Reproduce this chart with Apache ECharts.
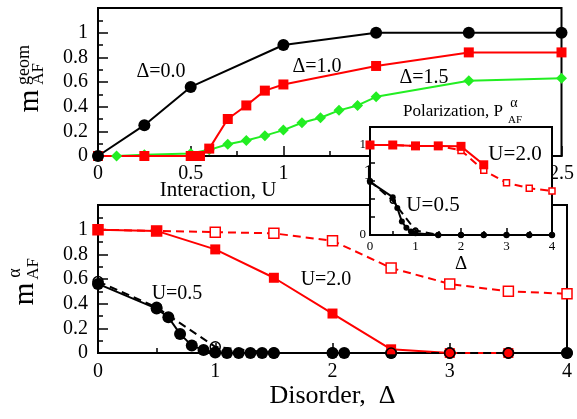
<!DOCTYPE html>
<html>
<head>
<meta charset="utf-8">
<script src="https://cdn.jsdelivr.net/npm/echarts@6/dist/echarts.min.js"></script>
<style>
html,body{margin:0;padding:0;background:#fff;}
#c{width:577px;height:419px;}
</style>
</head>
<body>
<div id="c"></div>
<script>
// ---- Top panel: m_AF^geom vs interaction U ----
const topU00 = [0, 0.25, 0.5, 1.0, 1.5, 2.0, 2.5];
const topD00 = [0, 0.25, 0.56, 0.90, 1.0, 1.0, 1.0];
const topU10 = [0, 0.25, 0.5, 0.55, 0.6, 0.7, 0.8, 0.9, 1.0, 1.5, 2.0, 2.5];
const topD10 = [0, 0, 0, 0, 0.06, 0.30, 0.41, 0.53, 0.58, 0.73, 0.84, 0.84];
const topU15 = [0, 0.1, 0.25, 0.5, 0.6, 0.7, 0.8, 0.9, 1.0, 1.1, 1.2, 1.3, 1.4, 1.5, 2.0, 2.5];
const topD15 = [0, 0, 0.01, 0.02, 0.05, 0.095, 0.125, 0.165, 0.21, 0.27, 0.31, 0.37, 0.41, 0.48, 0.61, 0.63];

// ---- Bottom panel: m_AF^alpha vs disorder Delta ----
const botX05 = [0, 0.5, 0.6, 0.7, 0.8, 0.9, 1.0, 1.1, 1.2, 1.3, 1.4, 1.5, 2.0, 2.1, 2.5, 3.0, 3.5, 4.0];
const botY05 = [0.56, 0.36, 0.29, 0.155, 0.06, 0.025, 0.005, 0, 0, 0, 0, 0, 0, 0, 0, 0, 0, 0];
const botX05o = [0, 0.5, 1.0, 1.5, 2.0, 2.5, 3.0, 3.5, 4.0];
const botY05o = [0.58, 0.37, 0.05, 0, 0, 0, 0, 0, 0];
const botX2 = [0, 0.5, 1.0, 1.5, 2.0, 2.5, 3.0, 3.5];
const botY2 = [1.0, 0.99, 0.84, 0.61, 0.32, 0.03, 0, 0];
const botX2o = [0, 0.5, 1.0, 1.5, 2.0, 2.5, 3.0, 3.5, 4.0];
const botY2o = [1.0, 0.99, 0.98, 0.97, 0.91, 0.69, 0.56, 0.50, 0.48];

// ---- Inset: polarization P_AF^alpha vs Delta ----
const insX2 = [0, 0.5, 1.0, 1.5, 2.0, 2.5];
const insY2 = [1.0, 1.0, 0.99, 0.99, 0.985, 0.78];
const insX2o = [0, 0.5, 1.0, 1.5, 2.0, 2.5, 3.0, 3.5, 4.0];
const insY2o = [1.0, 1.0, 0.99, 0.99, 0.94, 0.72, 0.58, 0.52, 0.49];
const insX05 = [0, 0.5, 0.6, 0.7, 0.8, 0.9, 1.0, 1.5, 2.0, 2.5, 3.0, 3.5, 4.0];
const insY05 = [0.59, 0.42, 0.30, 0.15, 0.08, 0.04, 0.02, 0, 0, 0, 0, 0, 0];
const insX05o = [0, 0.5, 1.0, 1.5, 2.0, 2.5, 3.0, 3.5, 4.0];
const insY05o = [0.6, 0.38, 0.05, 0, 0, 0, 0, 0, 0];

const zip = (xs, ys) => xs.map((x, i) => [x, ys[i]]);
const SERIF = '"Liberation Serif", "DejaVu Serif", serif';
const RED = '#ff0000', GREEN = '#22ee22', BLACK = '#000000';

function valAxis(gi, min, max, interval, opts) {
  opts = opts || {};
  return Object.assign({
    type: 'value', gridIndex: gi, min: min, max: max, interval: interval,
    axisLine: { show: true, onZero: false, lineStyle: { color: BLACK, width: 2 } },
    axisTick: { show: true, inside: true, length: opts.tickLen || 10, lineStyle: { color: BLACK, width: 1.5 } },
    minorTick: { show: true, splitNumber: opts.minorSplit || 2, length: opts.minorLen || 5, lineStyle: { color: BLACK, width: 1.5 } },
    splitLine: { show: false },
    axisLabel: {
      color: BLACK, fontFamily: SERIF, fontSize: opts.fontSize || 20, margin: opts.margin || 8,
      formatter: opts.formatter || (v => String(+v.toFixed(2)))
    }
  }, opts.extra || {});
}

// fill: null -> filled with colour; otherwise the inner fill of an open marker
function line(xi, yi, data, color, symbol, size, dashed, fill, z) {
  const open = fill != null;
  return {
    type: 'line', xAxisIndex: xi, yAxisIndex: yi, data: data,
    symbol: symbol, symbolSize: size, showSymbol: true, animation: false,
    z: z || 2,
    lineStyle: { color: color, width: 2, type: dashed ? [8, 5] : 'solid' },
    itemStyle: open
      ? { color: fill, borderColor: color, borderWidth: 1.5 }
      : { color: color, borderWidth: 0 },
    emphasis: { disabled: true }
  };
}

function txt(x, y, s, size, z, extra) {
  return Object.assign({
    type: 'text', x: x, y: y, z: z || 30,
    style: { text: s, fontSize: size, fontFamily: SERIF, fill: BLACK, align: 'center', verticalAlign: 'middle' }
  }, extra || {});
}

const hideTop = v => (Math.abs(v - 1.2) < 1e-6 ? '' : String(+v.toFixed(2)));
const insY = v => (Math.abs(v) < 1e-6 ? '0' : (Math.abs(v - 1) < 1e-6 ? '1' : ''));
const CLEAR = 'rgba(255,255,255,0)';

const option = {
  backgroundColor: '#ffffff',
  animation: false,
  grid: [
    { left: 98, top: 8, width: 469, height: 148, show: true, borderColor: BLACK, borderWidth: 2, backgroundColor: 'transparent', z: 0 },
    { left: 98, top: 205, width: 469, height: 148, show: true, borderColor: BLACK, borderWidth: 2, backgroundColor: 'transparent', z: 0 },
    { left: 370, top: 127, width: 182, height: 108, show: true, borderColor: BLACK, borderWidth: 2, backgroundColor: '#ffffff', z: 10 }
  ],
  xAxis: [
    valAxis(0, 0, 2.5, 0.5, { margin: 8 }),
    valAxis(1, 0, 4, 1, { margin: 9, extra: {
      name: 'Disorder,  \u0394', nameLocation: 'middle', nameGap: 28,
      nameTextStyle: { fontFamily: SERIF, fontSize: 26, color: BLACK } } }),
    valAxis(2, 0, 4, 1, { fontSize: 13, margin: 5, tickLen: 7, minorLen: 4, extra: {
      z: 11, name: '\u0394', nameLocation: 'middle', nameGap: 20,
      nameTextStyle: { fontFamily: SERIF, fontSize: 19, color: BLACK } } })
  ],
  yAxis: [
    valAxis(0, 0, 1.2, 0.2, { margin: 10, formatter: hideTop }),
    valAxis(1, 0, 1.2, 0.2, { margin: 10, formatter: hideTop }),
    valAxis(2, 0, 1.2, 0.2, { fontSize: 13, margin: 4, tickLen: 5, minorSplit: 1, minorLen: 3, formatter: insY, extra: { z: 11 } })
  ],
  series: [
    // top
    line(0, 0, zip(topU15, topD15), GREEN, 'diamond', 11, false),
    line(0, 0, zip(topU10, topD10), RED, 'rect', 10, false),
    line(0, 0, zip(topU00, topD00), BLACK, 'circle', 12, false),
    // bottom
    line(1, 1, zip(botX05, botY05), BLACK, 'circle', 12, false),
    line(1, 1, zip(botX2o, botY2o), RED, 'rect', 10, true, '#ffffff'),
    line(1, 1, zip(botX2, botY2), RED, 'rect', 10, false),
    line(1, 1, zip(botX05o, botY05o), BLACK, 'circle', 10, true, CLEAR),
    // inset
    line(2, 2, zip(insX2o, insY2o), RED, 'rect', 6, true, '#ffffff', 12),
    line(2, 2, zip(insX2, insY2), RED, 'rect', 9, false, null, 12),
    line(2, 2, zip(insX05, insY05), BLACK, 'circle', 6, false, null, 12),
    line(2, 2, zip(insX05o, insY05o), BLACK, 'circle', 5, true, CLEAR, 12)
  ],
  graphic: [
    txt(161, 72, '\u0394=0.0', 20),
    txt(317, 67, '\u0394=1.0', 20),
    txt(424, 78, '\u0394=1.5', 20),
    txt(218, 190, 'Interaction, U', 21),
    txt(515, 154, 'U=2.0', 21, 40),
    txt(433, 205, 'U=0.5', 21, 40),
    txt(177, 294, 'U=0.5', 20),
    txt(326, 280, 'U=2.0', 20),
    // inset title
    txt(453, 112, 'Polarization, P', 17, 40),
    txt(514, 103, '\u03b1', 14, 40),
    txt(515, 120, 'AF', 11, 40),
    // top y label
    { type: 'group', x: 33, y: 101, rotation: Math.PI / 2, z: 40, children: [
      txt(0, -3, 'm', 29),
      txt(36, -9, 'geom', 18),
      txt(27, 6, 'AF', 17)
    ]},
    // bottom y label
    { type: 'group', x: 28, y: 294, rotation: Math.PI / 2, z: 40, children: [
      txt(0, -3, 'm', 29),
      txt(21, -13, '\u03b1', 18),
      txt(25, 6, 'AF', 17)
    ]}
  ]
};

const chart = echarts.init(document.getElementById('c'), null, { renderer: 'canvas' });
chart.setOption(option);
</script>
</body>
</html>
